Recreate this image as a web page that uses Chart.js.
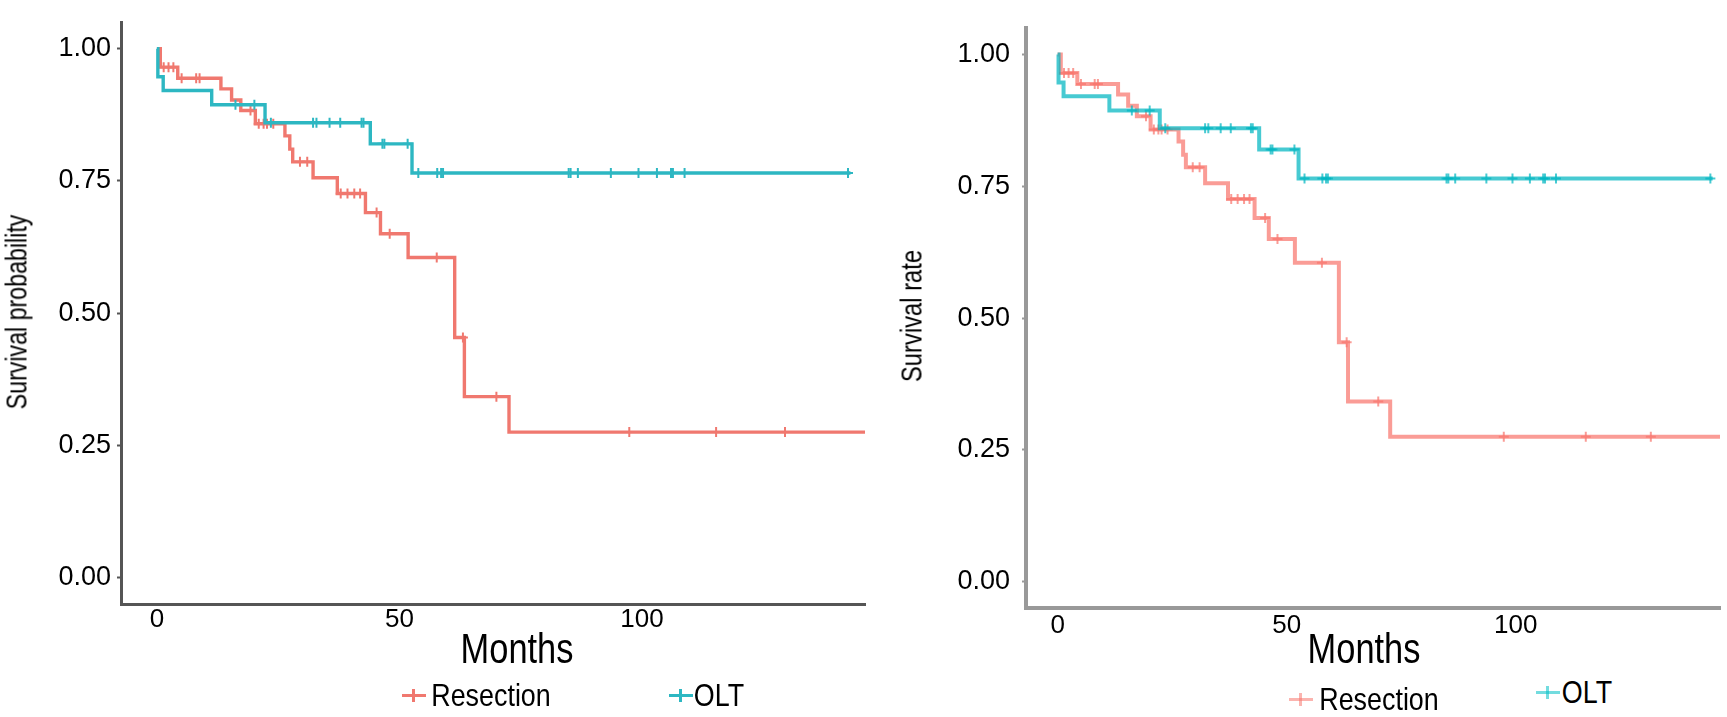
<!DOCTYPE html>
<html>
<head>
<meta charset="utf-8">
<script src="https://cdn.jsdelivr.net/npm/chart.js@4.4.1/dist/chart.umd.min.js"></script>
<style>
  body { margin: 0; background: #fff; width: 1727px; height: 717px; overflow: hidden; position: relative; font-family: "Liberation Sans", Arial, sans-serif; }
  canvas { position: absolute; top: 0; }
  .t { position: absolute; white-space: nowrap; color: #000; line-height: 1; }
  .mk { position: absolute; height: 3px; width: 24px; }
  .mk::after { content: ""; position: absolute; left: 10px; top: -5px; width: 3px; height: 13px; background: inherit; }
</style>
</head>
<body>
<canvas id="left" width="880" height="640" style="left:0"></canvas>
<canvas id="right" width="847" height="640" style="left:880px"></canvas>

<div class="t" style="left:17px;top:312px;font-size:29px;transform:translate(-50%,-50%) rotate(-90deg) scaleX(.8)">Survival probability</div>
<div class="t" style="left:517px;top:648px;font-size:43px;transform:translate(-50%,-50%) scaleX(.8)">Months</div>
<div class="mk" style="left:402px;top:694px;background:#F0786F"></div>
<div class="t" style="left:491px;top:695px;font-size:32px;transform:translate(-50%,-50%) scaleX(.84)">Resection</div>
<div class="mk" style="left:669px;top:694px;background:#2DB7C2"></div>
<div class="t" style="left:719px;top:695px;font-size:32px;transform:translate(-50%,-50%) scaleX(.84)">OLT</div>

<div class="t" style="left:912px;top:316px;font-size:29px;transform:translate(-50%,-50%) rotate(-90deg) scaleX(.82)">Survival rate</div>
<div class="t" style="left:1364px;top:648px;font-size:43px;transform:translate(-50%,-50%) scaleX(.8)">Months</div>
<div class="mk" style="left:1289px;top:698px;background:rgba(248,118,109,.55)"></div>
<div class="t" style="left:1379px;top:699px;font-size:32px;transform:translate(-50%,-50%) scaleX(.84)">Resection</div>
<div class="mk" style="left:1536px;top:691px;background:rgba(0,191,196,.55)"></div>
<div class="t" style="left:1587px;top:692px;font-size:32px;transform:translate(-50%,-50%) scaleX(.84)">OLT</div>

<script>
// Kaplan-Meier steps (months, survival)
const resTimes = [0, 0.7, 4.3, 13.2, 15.4, 17.3, 20.3, 26.4, 27.4, 28.0, 32.2, 37.2, 43.0, 46.1, 51.8, 61.4, 63.4, 72.6];
const resSurv  = [1.000, 0.965, 0.944, 0.924, 0.903, 0.883, 0.858, 0.835, 0.810, 0.786, 0.756, 0.726, 0.690, 0.650, 0.605, 0.454, 0.342, 0.275];
const resEnd = 146;
const resCensor = [1.4, 2.4, 3.4, 5.1, 8.1, 8.8, 19.3, 21.0, 22.0, 22.7, 24.0, 29.5, 31.0, 37.9, 39.3, 40.7, 41.9, 45.3, 48.0, 57.7, 63.1, 70.0, 97.4, 115.3, 129.5];

const oltTimes = [0, 0.2, 1.3, 11.3, 22.3, 44.0, 52.6];
const oltSurv  = [1.000, 0.947, 0.921, 0.894, 0.860, 0.820, 0.765];
const oltEnd = 143;
const oltCensor = [16.2, 20.1, 23.5, 32.2, 32.9, 35.6, 37.8, 42.2, 42.6, 46.5, 46.9, 51.7, 53.9, 57.8, 58.6, 59.0, 84.9, 85.3, 86.8, 93.6, 99.3, 103.1, 106.0, 106.4, 108.8, 142.5];

const xTicks = [0, 50, 100];
const yTicks = [0, 0.25, 0.5, 0.75, 1];

function survAt(times, surv, t) {
  let s = surv[0];
  for (let i = 0; i < times.length; i++) if (times[i] <= t) s = surv[i];
  return s;
}
function steps(times, surv, end) {
  const pts = times.map((t, i) => ({ x: t, y: surv[i] }));
  pts.push({ x: end, y: surv[surv.length - 1] });
  return pts;
}
function marks(censor, times, surv) {
  return censor.map(t => ({ x: t, y: survAt(times, surv, t) }));
}

function makeChart(id, o) {
  const ctx = document.getElementById(id);
  return new Chart(ctx, {
    type: "line",
    data: {
      datasets: [
        { label: "OLT", data: steps(oltTimes, oltSurv, oltEnd), stepped: true, borderColor: o.teal, borderWidth: o.lw, pointRadius: 0, fill: false },
        { label: "OLT +", data: marks(oltCensor, oltTimes, oltSurv), showLine: false, pointStyle: "cross", pointRadius: 5, pointBorderWidth: 2, borderColor: o.teal },
        { label: "Resection", data: steps(resTimes, resSurv, resEnd), stepped: true, borderColor: o.red, borderWidth: o.lw, pointRadius: 0, fill: false },
        { label: "Resection +", data: marks(resCensor, resTimes, resSurv), showLine: false, pointStyle: "cross", pointRadius: 5, pointBorderWidth: 2, borderColor: o.red },
      ],
    },
    options: {
      responsive: false,
      animation: false,
      layout: { padding: { left: 0, top: o.top, right: o.right, bottom: 0 } },
      plugins: { legend: { display: false }, tooltip: { enabled: false } },
      scales: {
        x: {
          type: "linear", min: o.xmin, max: o.xmax,
          afterBuildTicks: s => { s.ticks = xTicks.map(v => ({ value: v })); },
          afterFit: s => { s.height = o.xh; },
          grid: { drawOnChartArea: false, tickLength: 2, tickColor: o.axis, tickWidth: 2 },
          border: { color: o.axis, width: o.aw },
          ticks: { color: "#000", padding: o.xpad, maxRotation: 0, autoSkip: false, font: { family: "Liberation Sans", size: 26 } },
        },
        y: {
          min: -0.05, max: 1.05,
          afterBuildTicks: s => { s.ticks = yTicks.map(v => ({ value: v })); },
          afterFit: s => { s.width = o.yw; },
          grid: { drawOnChartArea: false, tickLength: 4, tickColor: o.axis, tickWidth: 2 },
          border: { color: o.axis, width: o.aw },
          ticks: { color: "#000", padding: o.ypad, callback: v => v.toFixed(2), font: { family: "Liberation Sans", size: 27 } },
        },
      },
    },
  });
}

makeChart("left", {
  red: "#F0786F", teal: "#2DB7C2", lw: 3.4, axis: "#555", aw: 3,
  top: 3, right: 15, xh: 36, yw: 121, xmin: -7.4, xmax: 146, xpad: -2, ypad: 6,
});
makeChart("right", {
  red: "rgba(248,118,109,0.72)", teal: "rgba(0,181,192,0.72)", lw: 4, axis: "#999", aw: 4,
  top: 24, right: 7, xh: 32, yw: 146, xmin: -6.9, xmax: 144.6, xpad: 0, ypad: 12,
});
</script>
</body>
</html>
